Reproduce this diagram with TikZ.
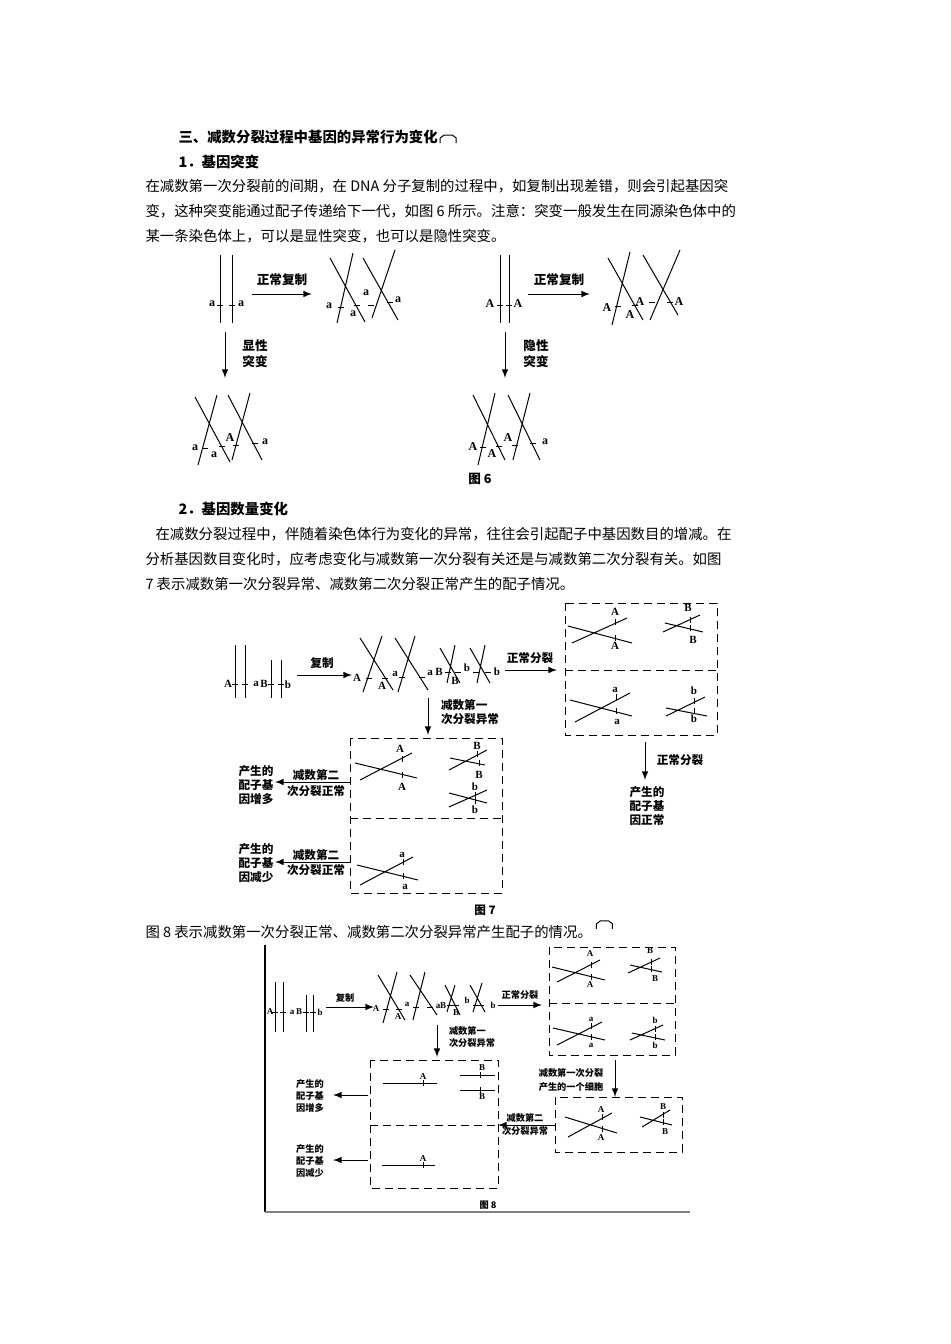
\documentclass[tikz,border=0pt]{standalone}
\usepackage{fontspec}
\setmainfont{Liberation Serif}
\newfontfamily\cjk{Noto Sans CJK SC}
\begin{document}
\begin{tikzpicture}[x=0.5pt,y=-0.5pt,line width=0.5pt,
 body/.style={anchor=west,inner sep=0,font=\cjk\fontsize{7.2}{8}\selectfont},
 head/.style={anchor=west,inner sep=0,font=\cjk\bfseries\fontsize{7.2}{8}\selectfont},
 g/.style={inner sep=0,font=\bfseries\fontsize{6}{7}\selectfont},
 gs/.style={inner sep=0,font=\bfseries\fontsize{5.5}{6}\selectfont},
 gt/.style={inner sep=0,font=\bfseries\fontsize{4.5}{5}\selectfont},
 ct/.style={inner sep=0,align=center,font=\cjk\bfseries\fontsize{6.3}{7.8}\selectfont},
 cs/.style={inner sep=0,align=center,font=\cjk\bfseries\fontsize{5.8}{7.2}\selectfont},
 ctt/.style={inner sep=0,align=center,font=\cjk\bfseries\fontsize{4.6}{5.8}\selectfont},
 arr/.style={-latex},
 box/.style={dashed,dash pattern=on 4pt off 2.5pt}]
\useasboundingbox (0,0) rectangle (950,1344);
\newcommand\tkh[2]{\draw (#1-3,#2)--(#1+3,#2);}
\newcommand\tkv[2]{\draw (#1,#2-3)--(#1,#2+3);}
% ---------- text ----------
\node[head] (t1) at (178,137) {三、减数分裂过程中基因的异常行为变化};
\draw ([xshift=1pt,yshift=-3pt]t1.east) coordinate (k1) -- ++(0,2.5pt) -- ++(2pt,1.5pt) -- ++(4pt,0) -- ++(2pt,-1.5pt) -- ++(0,-2.5pt);
\node[head] (t2) at (178,162) {1．基因突变};
\node[body] (p1) at (145,186) {在减数第一次分裂前的间期，在 DNA 分子复制的过程中，如复制出现差错，则会引起基因突};
\node[body] (p2) at (145,211) {变，这种突变能通过配子传递给下一代，如图 6 所示。注意：突变一般发生在同源染色体中的};
\node[body] (p3) at (145,236) {某一条染色体上，可以是显性突变，也可以是隐性突变。};
\node[head] (t3) at (178,509) {2．基因数量变化};
\node[body] (p4) at (155,534) {在减数分裂过程中，伴随着染色体行为变化的异常，往往会引起配子中基因数目的增减。在};
\node[body] (p5) at (145,559) {分析基因数目变化时，应考虑变化与减数第一次分裂有关还是与减数第二次分裂有关。如图};
\node[body] (p6) at (145,584) {7 表示减数第一次分裂异常、减数第二次分裂正常产生的配子情况。};
\node[body] (p7) at (145,932) {图 8 表示减数第一次分裂正常、减数第二次分裂异常产生配子的情况。};
\draw ([xshift=2pt,yshift=-2pt]p7.north east) -- ++(0,2.5pt) -- ++(2pt,1.5pt) -- ++(4pt,0) -- ++(2pt,-1.5pt) -- ++(0,-2.5pt);
% ---------- Figure 6 ----------
\draw (220,255)--(220,323) (232,255)--(232,323); \tkh{220}{305}\tkh{232}{305}
\node[g] at (212,304) {a}; \node[g] at (241,304) {a};
\draw[arr] (252,294)--(312,294); \node[ct] at (282,280) {正常复制};
\draw (330,258)--(365,322) (353,253)--(337,323) (363,258)--(398,320) (395,250)--(372,318);
\tkh{341}{307}\tkh{357}{305}\tkh{371}{305}\tkh{390}{302}
\node[g] at (329,306) {a}; \node[g] at (353,314) {a}; \node[g] at (366,293) {a}; \node[g] at (398,300) {a};
\draw[arr] (225,332)--(225,378); \node[ct] at (255,354) {显性\\突变};
\draw (195,397)--(230,462) (217,395)--(198,465) (228,395)--(262,460) (250,393)--(232,460);
\tkh{205}{448}\tkh{222}{446}\tkh{236}{445}\tkh{255}{443}
\node[g] at (195,448) {a}; \node[g] at (214,455) {a}; \node[g] at (230,438) {A}; \node[g] at (265,442) {a};
\draw (500,255)--(500,323) (509,255)--(509,323); \tkh{500}{305}\tkh{509}{305}
\node[g] at (490,304) {A}; \node[g] at (518,304) {A};
\draw[arr] (528,294)--(590,294); \node[ct] at (559,280) {正常复制};
\draw (608,258)--(643,320) (630,252)--(612,325) (643,255)--(678,315) (680,250)--(650,320);
\tkh{618}{306}\tkh{635}{305}\tkh{652}{302}\tkh{670}{302}
\node[g] at (607,308) {A}; \node[g] at (630,315) {A}; \node[g] at (640,302) {A}; \node[g] at (679,302) {A};
\draw[arr] (505,332)--(505,378); \node[ct] at (536,354) {隐性\\突变};
\draw (473,395)--(505,460) (495,393)--(478,465) (508,395)--(540,460) (530,393)--(513,460);
\tkh{483}{447}\tkh{499}{446}\tkh{515}{445}\tkh{533}{443}
\node[g] at (473,447) {A}; \node[g] at (492,454) {A}; \node[g] at (508,438) {A}; \node[g] at (545,442) {a};
\node[ct] at (480,479) {图 6};
% ---------- Figure 7 ----------
\draw (235,645)--(235,698) (245,645)--(245,698) (271,660)--(271,698) (281,660)--(281,698);
\tkh{235}{684}\tkh{245}{684}\tkh{271}{684}\tkh{281}{684}
\node[gs] at (228,684) {A}; \node[gs] at (256,684) {a}; \node[gs] at (264,684) {B}; \node[gs] at (288,685) {b};
\draw[arr] (297,675)--(352,675); \node[cs] at (322,663) {复制};
\draw (360,638)--(393,690) (382,636)--(363,692) (395,638)--(428,690) (415,636)--(398,692);
\tkh{369}{678}\tkh{385}{678}\tkh{402}{677}\tkh{422}{677}
\node[gs] at (357,678) {A}; \node[gs] at (382,686) {A}; \node[gs] at (395,674) {a}; \node[gs] at (430,673) {a};
\draw (440,648)--(460,683) (455,645)--(447,683) (470,648)--(490,683) (485,645)--(477,683);
\tkh{448}{672}\tkh{458}{672}\tkh{476}{672}\tkh{488}{672}
\node[gs] at (439,672) {B}; \node[gs] at (455,681) {B}; \node[gs] at (467,668) {b}; \node[gs] at (497,672) {b};
\draw[arr] (505,670)--(557,670); \node[cs] at (530,658) {正常分裂};
\draw[box] (565,603) rectangle (717,735); \draw[box] (565,670)--(717,670);
\draw (568,626)--(632,643) (572,643)--(627,618); \tkv{615}{622}\tkv{615}{638}
\node[gs] at (615,612) {A}; \node[gs] at (615,646) {A};
\draw (665,623)--(703,632) (663,632)--(700,615); \tkv{690}{620}\tkv{690}{628}
\node[gs] at (688,608) {B}; \node[gs] at (693,640) {B};
\draw (570,700)--(632,716) (575,722)--(630,693); \tkv{616}{697}\tkv{616}{711}
\node[gs] at (615,690) {a}; \node[gs] at (617,722) {a};
\draw (666,708)--(707,716) (666,716)--(705,697); \tkv{694}{701}\tkv{694}{711}
\node[gs] at (694,691) {b}; \node[gs] at (694,719) {b};
\draw[arr] (645,742)--(645,780); \node[cs] at (680,760) {正常分裂};
\node[cs] at (647,806) {产生的\\配子基\\因正常};
\draw[arr] (428,698)--(428,735); \node[cs,align=left] at (470,712) {减数第一\\次分裂异常};
\draw[box] (350,738) rectangle (502,893); \draw[box] (350,818)--(502,818);
\draw (355,763)--(417,778) (360,780)--(412,753); \tkv{402}{759}\tkv{402}{775}
\node[gs] at (400,749) {A}; \node[gs] at (402,787) {A};
\draw (450,758)--(485,765) (449,770)--(487,750); \tkv{477}{754}\tkv{479}{763}
\node[gs] at (477,746) {B}; \node[gs] at (479,775) {B};
\draw (449,807)--(487,790) (449,793)--(487,803); \tkv{475}{795}\tkv{475}{801}
\node[gs] at (475,787) {b}; \node[gs] at (475,810) {b};
\draw[arr] (350,782)--(275,782); \node[cs] at (316,775) {减数第二}; \node[cs] at (316,791) {次分裂正常};
\node[cs] at (256,785) {产生的\\配子基\\因增多};
\draw (357,865)--(418,880) (360,885)--(413,857); \tkv{403}{862}\tkv{403}{876}
\node[gs] at (402,855) {a}; \node[gs] at (405,887) {a};
\draw[arr] (350,862)--(275,862); \node[cs] at (316,855) {减数第二}; \node[cs] at (316,870) {次分裂正常};
\node[cs] at (256,863) {产生的\\配子基\\因减少};
\node[cs] at (485,910) {图 7};
% ---------- Figure 8 ----------
\draw[line width=0.6pt] (265,945)--(265,1212);
\draw[line width=1pt,gray] (265,1212)--(690,1212);
\draw (275,982)--(275,1032) (283,982)--(283,1032) (306,995)--(306,1032) (313,995)--(313,1032);
\tkh{275}{1012}\tkh{283}{1012}\tkh{306}{1012}\tkh{313}{1012}
\node[gt] at (270,1012) {A}; \node[gt] at (292,1012) {a}; \node[gt] at (299,1012) {B}; \node[gt] at (320,1012) {b};
\draw[arr] (326,1007)--(374,1007); \node[ctt] at (345,998) {复制};
\draw (378,975)--(405,1020) (397,972)--(383,1023) (410,975)--(437,1015) (425,972)--(413,1020);
\tkh{386}{1009}\tkh{399}{1009}\tkh{416}{1007}\tkh{430}{1007}
\node[gt] at (376,1009) {A}; \node[gt] at (398,1017) {A}; \node[gt] at (407,1004) {a}; \node[gt] at (438,1006) {a};
\draw (445,985)--(460,1015) (455,985)--(447,1012) (470,985)--(485,1012) (482,983)--(473,1012);
\tkh{450}{1005}\tkh{456}{1005}\tkh{476}{1005}\tkh{481}{1005}
\node[gt] at (443,1006) {B}; \node[gt] at (456,1013) {B}; \node[gt] at (467,1000) {b}; \node[gt] at (493,1005) {b};
\draw[arr] (498,1005)--(542,1005); \node[ctt] at (520,995) {正常分裂};
\draw[box] (549,947) rectangle (675,1055); \draw[box] (549,1003)--(675,1003);
\draw (552,967)--(605,980) (557,982)--(600,960); \tkv{591}{965}\tkv{591}{977}
\node[gt] at (590,954) {A}; \node[gt] at (590,985) {A};
\draw (630,965)--(662,972) (628,973)--(660,958); \tkv{651}{962}\tkv{651}{969}
\node[gt] at (650,951) {B}; \node[gt] at (655,979) {B};
\draw (553,1028)--(605,1040) (557,1045)--(602,1022); \tkv{591}{1026}\tkv{591}{1037}
\node[gt] at (591,1019) {a}; \node[gt] at (591,1045) {a};
\draw (632,1033)--(665,1040) (630,1040)--(663,1025); \tkv{655}{1029}\tkv{655}{1037}
\node[gt] at (655,1020) {b}; \node[gt] at (655,1045) {b};
\draw[arr] (615,1060)--(615,1097);
\node[ctt] at (571,1073) {减数第一次分裂}; \node[ctt] at (571,1087) {产生的一个细胞};
\draw[box] (555,1097) rectangle (682,1152);
\draw (565,1117)--(617,1133) (568,1137)--(612,1113); \tkv{602}{1117}\tkv{602}{1129}
\node[gt] at (601,1110) {A}; \node[gt] at (601,1138) {A};
\draw (640,1117)--(672,1125) (642,1127)--(670,1110); \tkv{663}{1115}\tkv{663}{1122}
\node[gt] at (663,1107) {B}; \node[gt] at (665,1132) {B};
\draw[arr] (555,1125)--(498,1125);
\node[ctt] at (525,1118) {减数第二}; \node[ctt] at (525,1131) {次分裂异常};
\draw[arr] (437,1025)--(437,1057);
\node[ctt,align=left] at (472,1037) {减数第一\\次分裂异常};
\draw[box] (370,1060) rectangle (498,1188); \draw[box] (370,1125)--(498,1125);
\draw (383,1083)--(437,1083); \tkv{423}{1083} \node[gt] at (423,1077) {A};
\draw (460,1075)--(495,1075); \tkv{480}{1075} \node[gt] at (482,1068) {B};
\draw (460,1090)--(495,1090); \tkv{480}{1090} \node[gt] at (482,1097) {B};
\draw (382,1165)--(435,1165); \tkv{423}{1165} \node[gt] at (423,1159) {A};
\draw[arr] (368,1095)--(333,1095); \node[ctt] at (310,1096) {产生的\\配子基\\因增多};
\draw[arr] (368,1160)--(333,1160); \node[ctt] at (310,1161) {产生的\\配子基\\因减少};
\node[ctt] at (488,1205) {图 8};
\end{tikzpicture}
\end{document}
